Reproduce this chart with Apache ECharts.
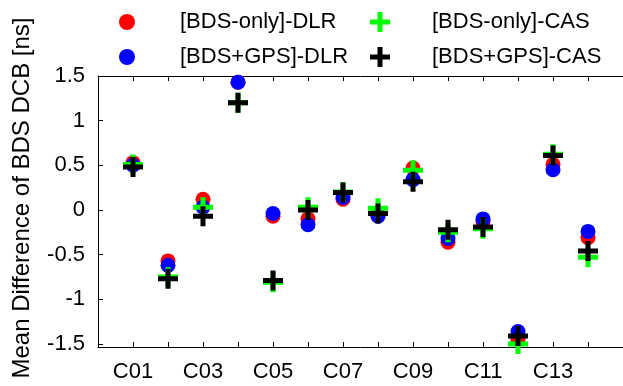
<!DOCTYPE html>
<html>
<head>
<meta charset="utf-8">
<script src="https://cdn.jsdelivr.net/npm/echarts@6/dist/echarts.min.js"></script>
<style>
  html, body { margin: 0; padding: 0; background: #fff; }
  #chart { width: 623px; height: 386px; }
</style>
</head>
<body>
<div id="chart"></div>
<script>
// Satellites (PRN) along the x axis
const satellites = ['C01', 'C02', 'C03', 'C04', 'C05', 'C06', 'C07',
                    'C08', 'C09', 'C10', 'C11', 'C12', 'C13', 'C14'];

// Mean DCB differences [ns] per product
const bdsOnlyDlr = [0.53, -0.57, 0.12, 1.43, -0.07, -0.10, 0.12, -0.04, 0.47, -0.36, -0.13, -1.45, 0.51, -0.31];
const bdsGpsDlr  = [0.50, -0.62, 0.03, 1.43, -0.04, -0.165, 0.14, -0.07, 0.34, -0.32, -0.10, -1.36, 0.45, -0.24];
const bdsOnlyCas = [0.51, -0.75, 0.03, 1.20, -0.81, 0.03, 0.20, 0.02, 0.445, -0.25, -0.21, -1.50, 0.625, -0.53];
const bdsGpsCas  = [0.48, -0.77, -0.07, 1.20, -0.79, 0.00, 0.195, -0.04, 0.315, -0.22, -0.19, -1.41, 0.61, -0.46];

const seriesNames = ['[BDS-only]-DLR', '[BDS+GPS]-DLR', '[BDS-only]-CAS', '[BDS+GPS]-CAS'];
const yTickValues = [-1.5, -1, -0.5, 0, 0.5, 1, 1.5];
const xLabelValues = [1, 3, 5, 7, 9, 11, 13];
const yTitle = 'Mean Difference of BDS DCB [ns]';

const FONT = "'Liberation Sans', Arial, Helvetica, sans-serif";
const PLUS = 'path://M7.5,0H12.5V7.5H20V12.5H12.5V20H7.5V12.5H0V7.5H7.5Z';

const toPoints = vals => vals.map((v, i) => [i + 1, v]);

function legendAt(name, left, top, w, h, gap) {
  return {
    data: [name],
    left: left, top: top,
    padding: 0,
    itemWidth: w, itemHeight: h,
    selectedMode: false,
    formatter: n => '{s| }{t|' + n + '}',
    textStyle: {
      color: '#000',
      rich: {
        s: { width: gap, fontSize: 22, lineHeight: 24, fontFamily: FONT },
        t: { fontSize: 22, lineHeight: 24, fontFamily: FONT, color: '#000' }
      }
    }
  };
}

const chart = echarts.init(document.getElementById('chart'), null, { renderer: 'canvas' });

const axisLineStyle = { color: '#000', width: 1 };

chart.setOption({
  animation: false,
  backgroundColor: '#fff',
  grid: { left: 98, top: 76, width: 531, bottom: 39, containLabel: false },
  legend: [
    legendAt(seriesNames[0], 119, 11, 16, 16, 40),
    legendAt(seriesNames[1], 119, 46, 16, 16, 40),
    legendAt(seriesNames[2], 370, 11, 20, 20, 37),
    legendAt(seriesNames[3], 370, 46, 20, 20, 37)
  ],
  xAxis: [
    {
      type: 'value', position: 'bottom',
      min: 0, max: 15, interval: 1,
      axisLine: { show: true, onZero: false, lineStyle: axisLineStyle },
      axisTick: { show: true, inside: true, length: 5, lineStyle: axisLineStyle },
      axisLabel: {
        show: true, margin: 14,
        customValues: xLabelValues,
        formatter: v => satellites[v - 1] || '',
        color: '#000', fontSize: 22, fontFamily: FONT
      },
      splitLine: { show: false }
    },
    {
      type: 'value', position: 'top',
      min: 0, max: 15, interval: 1,
      axisLine: { show: true, onZero: false, lineStyle: axisLineStyle },
      axisTick: { show: true, inside: true, length: 5, lineStyle: axisLineStyle },
      axisLabel: { show: false },
      splitLine: { show: false }
    }
  ],
  yAxis: {
    type: 'value',
    min: -1.534, max: 1.5,
    axisLine: { show: true, onZero: false, lineStyle: axisLineStyle },
    axisTick: { show: true, inside: true, length: 5, customValues: yTickValues, lineStyle: axisLineStyle },
    axisLabel: {
      show: true, margin: 13,
      customValues: yTickValues,
      formatter: v => String(v),
      color: '#000', fontSize: 22, fontFamily: FONT
    },
    splitLine: { show: false }
  },
  graphic: [{
    type: 'text',
    x: 22, y: 198,
    rotation: Math.PI / 2,
    style: {
      text: yTitle,
      fill: '#000',
      font: '24px ' + FONT,
      align: 'center',
      verticalAlign: 'middle'
    }
  }],
  series: [
    { name: seriesNames[0], type: 'scatter', data: toPoints(bdsOnlyDlr),
      symbol: 'circle', symbolSize: 15, itemStyle: { color: '#ff0000', opacity: 1 } },
    { name: seriesNames[1], type: 'scatter', data: toPoints(bdsGpsDlr),
      symbol: 'circle', symbolSize: 15, itemStyle: { color: '#0000ff', opacity: 1 } },
    { name: seriesNames[2], type: 'scatter', data: toPoints(bdsOnlyCas),
      symbol: PLUS, symbolSize: 20, itemStyle: { color: '#00ff00', opacity: 1 } },
    { name: seriesNames[3], type: 'scatter', data: toPoints(bdsGpsCas),
      symbol: PLUS, symbolSize: 20, itemStyle: { color: '#000000', opacity: 1 } }
  ].map(s => Object.assign(s, { emphasis: { disabled: true }, clip: false }))
});
</script>
</body>
</html>
